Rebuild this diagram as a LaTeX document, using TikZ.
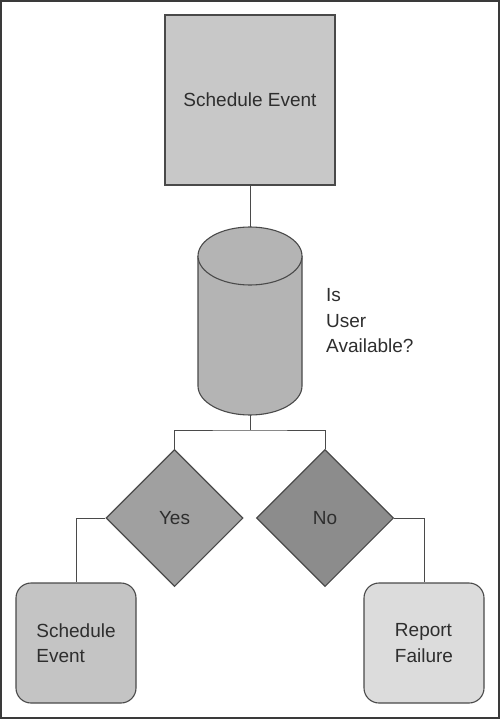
\documentclass[tikz,border=0pt]{standalone}
\usepackage{fontspec}
\setmainfont{Liberation Sans}
\usetikzlibrary{shapes.geometric}
\definecolor{framec}{HTML}{3A3A3A}
\definecolor{linec}{HTML}{4A4A4A}
\definecolor{textc}{HTML}{2E2E2E}
\definecolor{ctop}{HTML}{C8C8C8}
\definecolor{ccyl}{HTML}{B4B4B4}
\definecolor{cyes}{HTML}{A0A0A0}
\definecolor{cno}{HTML}{8C8C8C}
\definecolor{cse}{HTML}{C4C4C4}
\definecolor{crf}{HTML}{DCDCDC}
\begin{document}
\begin{tikzpicture}[x=1pt,y=-1pt,
  txt/.style={font=\fontsize{19}{25.5}\selectfont, text=textc},
  shapebox/.style={draw=linec, line width=1.1pt, inner sep=0pt, txt},
  rbox/.style={shapebox, rounded corners=15pt, minimum width=120pt, minimum height=120pt, align=left},
  dia/.style={shapebox, diamond, minimum width=137pt, minimum height=137pt},
  conn/.style={draw=linec, line width=1pt}]
\useasboundingbox (0,0) rectangle (500,719);
\fill[white] (0,0) rectangle (500,719);
\draw[framec, line width=2pt] (1,1) rectangle (499,718);

\node[shapebox, fill=ctop, minimum width=170pt, minimum height=170pt] (top) at (250,100) {Schedule Event};

% cylinder
\coordinate (cyltop) at (250,227);
\coordinate (cylbot) at (250,415);
\draw[linec, line width=1.1pt, fill=ccyl] (198,256) -- (198,386) arc[start angle=180, end angle=0, x radius=52, y radius=29] -- (302,256);
\draw[linec, line width=1.1pt, fill=ccyl] (250,256) ellipse [x radius=52, y radius=29];
\node[txt, anchor=west, align=left, inner sep=0pt] (q) at (326,321) {Is\\User\\Available?};

\coordinate (split) at (250,430);
\node[dia, fill=cyes] (yes) at (174.5,518) {Yes};
\node[dia, fill=cno] (no) at (325,518) {No};

\node[rbox, fill=cse] (se) at (76,643) {Schedule\\Event};
\node[rbox, fill=crf] (rf) at (424,643) {Report\\Failure};

\draw[conn] (top.south) -- (cyltop);
\draw[conn] (cylbot) -- (split);
\draw[conn] (yes.north) |- (split) -| (no.north);
\draw[conn] (yes.west) -| (se.north);
\draw[conn] (no.east) -| (rf.north);
\end{tikzpicture}
\end{document}
